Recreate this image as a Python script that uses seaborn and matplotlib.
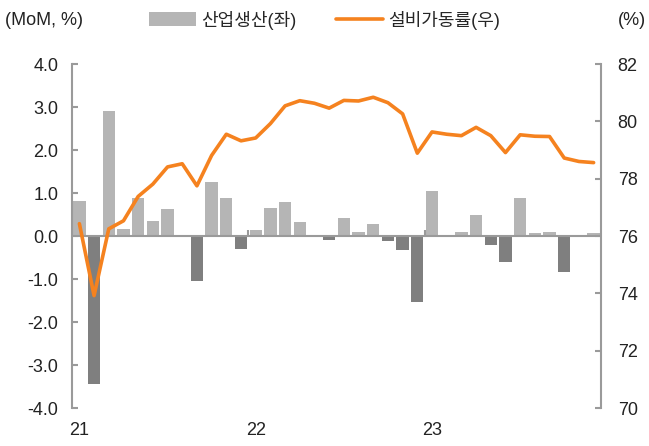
"""
Industrial production (MoM) vs. facility utilization rate, 2021-2023.
"""

import numpy as np
import pandas as pd
import matplotlib
matplotlib.use("Agg")
import matplotlib.pyplot as plt
from matplotlib.patches import Patch
from matplotlib.lines import Line2D
import seaborn as sns

# monthly, 2021-01 .. 2023-12
months = pd.period_range("2021-01", "2023-12", freq="M").strftime("%Y-%m").tolist()
production = [0.82, -3.45, 2.90, 0.16, 0.88, 0.36, 0.62, 0.00, -1.05, 1.25, 0.89, -0.31,
              0.13, 0.64, 0.79, 0.32, -0.03, -0.10, 0.43, 0.10, 0.29, -0.12, -0.33, -1.54,
              1.05, 0.00, 0.09, 0.49, -0.22, -0.60, 0.88, 0.06, 0.09, -0.84, -0.03, 0.06]
utilization = [76.43, 73.92, 76.25, 76.53, 77.38, 77.81, 78.41, 78.52, 77.75, 78.81, 79.55, 79.32,
               79.42, 79.92, 80.54, 80.72, 80.63, 80.46, 80.73, 80.71, 80.84, 80.65, 80.26, 78.89,
               79.63, 79.55, 79.50, 79.79, 79.50, 78.91, 79.53, 79.48, 79.47, 78.72, 78.60, 78.56]
year_labels = ["21", "22", "23"]

POS = "#b5b5b5"
NEG = "#7f7f7f"
ORANGE = "#f5821f"
AXIS = "#9a9a9a"

df = pd.DataFrame({"month": months, "prod": production, "util": utilization})
df["pos"] = np.arange(len(df))
df["sign"] = np.where(df["prod"] >= 0, "pos", "neg")

sns.set_style("white")
plt.rcParams["font.family"] = ["Liberation Sans", "Noto Sans CJK KR", "DejaVu Sans"]

fig = plt.figure(figsize=(6.49, 4.46), dpi=100)
ax = fig.add_axes([0.111, 0.0852, 0.815, 0.7713])

sns.barplot(data=df, x="month", y="prod", hue="sign", palette={"pos": POS, "neg": NEG},
            width=0.84, dodge=False, legend=False, ax=ax, linewidth=0)
ax.axhline(0, color=AXIS, lw=1.5, zorder=3)
# year divider marks on the zero line
ax.vlines([11.5, 23.5], 0, 0.14, color=AXIS, lw=1.5, zorder=3)

ax.set_ylim(-4, 4)
ax.set_xlim(-0.5, 35.5)
ax.set_yticks(np.arange(-4, 4.01, 1))
ax.set_yticklabels([f"{v:.1f}" for v in np.arange(-4, 4.01, 1)])
ax.set_xticks([0, 12, 24])
ax.set_xticklabels(year_labels)
ax.set_xlabel("")
ax.set_ylabel("")
ax.tick_params(axis="x", length=0, pad=10, labelsize=13, labelcolor="#222222")
ax.tick_params(axis="y", direction="in", length=4, width=1.5, color=AXIS,
               pad=10, labelsize=13, labelcolor="#222222")
for s in ["top", "bottom", "right"]:
    ax.spines[s].set_visible(False)
ax.spines["left"].set_color(AXIS)
ax.spines["left"].set_linewidth(1.5)

ax2 = ax.twinx()
sns.lineplot(data=df, x="pos", y="util", color=ORANGE, lw=2.6, ax=ax2)
ax2.set_ylim(70, 82)
ax2.set_yticks(np.arange(70, 82.1, 2))
ax2.set_ylabel("")
ax2.set_xlabel("")
ax2.tick_params(axis="y", direction="in", length=4, width=1.5, color=AXIS,
                pad=12, labelsize=13, labelcolor="#222222")
for s in ["top", "bottom", "left"]:
    ax2.spines[s].set_visible(False)
ax2.spines["right"].set_color(AXIS)
ax2.spines["right"].set_linewidth(1.5)
ax2.set_xlim(-0.5, 35.5)

handles = [Patch(facecolor=POS, edgecolor="none"), Line2D([0], [0], color=ORANGE, lw=2.6)]
fig.legend(handles, ["산업생산(좌)", "설비가동률(우)"], loc="center", bbox_to_anchor=(0.5, 0.955),
           ncol=2, frameon=False, fontsize=13, handlelength=2.6, handletextpad=0.3,
           columnspacing=2.2, handleheight=0.8)

fig.text(0.008, 0.955, "(MoM, %)", fontsize=13, color="#222222", va="center", ha="left")
fig.text(0.995, 0.955, "(%)", fontsize=13, color="#222222", va="center", ha="right")

fig.savefig("out.png", dpi=100)
